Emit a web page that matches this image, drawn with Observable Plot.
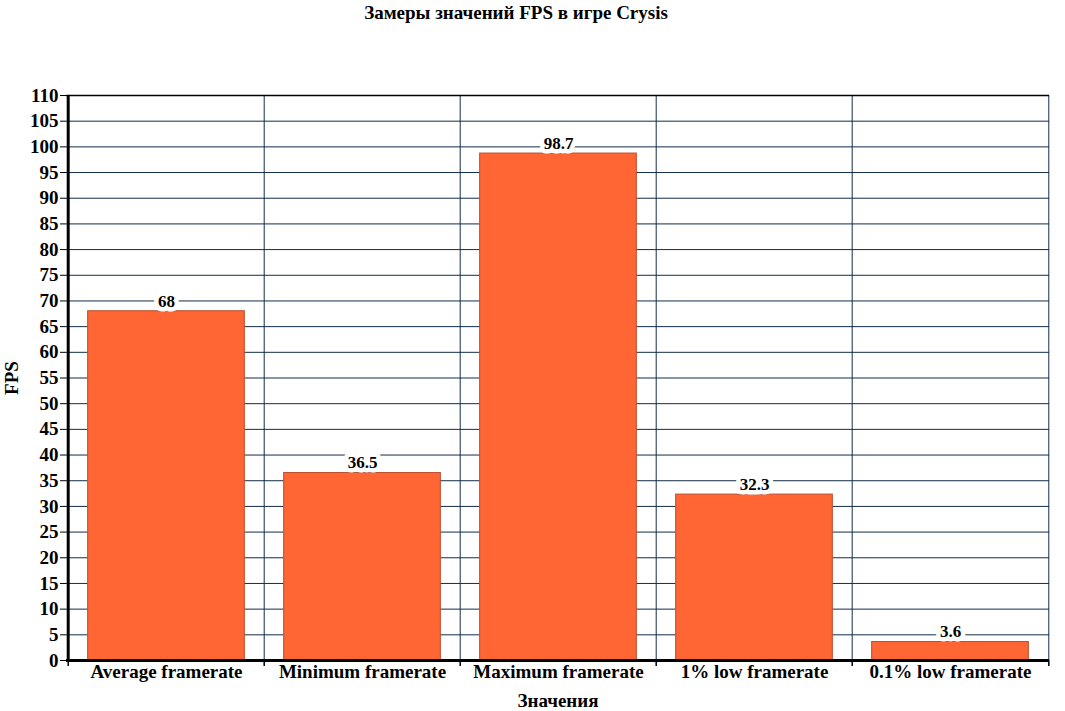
<!DOCTYPE html>
<html><head><meta charset="utf-8">
<script src="https://cdn.jsdelivr.net/npm/d3@7"></script>
<script src="https://cdn.jsdelivr.net/npm/@observablehq/plot@0.6"></script>
<style>
body{margin:0;background:#fff;font-family:"Liberation Serif","Times New Roman",serif;}
#wrap{position:relative;width:1065px;height:711px;}
#title{position:absolute;left:516px;top:2px;transform:translateX(-50%);font-weight:bold;font-size:19px;white-space:nowrap;}
#chart{position:absolute;left:0;top:30px;}
</style></head>
<body><div id="wrap"><div id="title">Замеры значений FPS в игре Crysis</div><div id="chart"></div></div>
<script>
const categories = ["Average framerate","Minimum framerate","Maximum framerate","1% low framerate","0.1% low framerate"];
const fps = [68, 36.5, 98.7, 32.3, 3.6];
const labels = ["68","36.5","98.7","32.3","3.6"];
const yTicks = [0,5,10,15,20,25,30,35,40,45,50,55,60,65,70,75,80,85,90,95,100,105,110];

const data = categories.map((c,i)=>({cat:c, v:fps[i], label:labels[i]}));
const W = 1065, ML = 66, MR = 16;
const bw = (W - ML - MR) / categories.length;
const navy = "#122c4a";
const last = [categories[categories.length-1]];

const plot = Plot.plot({
  width: W, height: 681,
  marginLeft: ML, marginRight: MR, marginTop: 65, marginBottom: 51,
  style: {fontFamily: "'Liberation Serif','Times New Roman',serif", fontWeight: "bold", fontSize: "19px", color: "#000", background: "#fff"},
  x: {domain: categories, padding: 0, label: null},
  y: {domain: [0, 110], label: null},
  marks: [
    Plot.ruleY(yTicks, {stroke: navy, strokeWidth: 1}),
    Plot.ruleX(categories, {x: d=>d, dx: -bw/2, y1: 0, y2: 110, stroke: navy, strokeWidth: 1}),
    Plot.ruleX(last, {x: d=>d, dx: bw/2, y1: 0, y2: 110, stroke: navy, strokeWidth: 1}),
    Plot.ruleY([110], {stroke: "#000", strokeWidth: 1.5}),
    Plot.barY(data, {x: "cat", y: "v", fill: "#ff6633", stroke: "#b9502e", strokeWidth: 1, insetLeft: bw*0.1, insetRight: bw*0.1}),
    Plot.text(data, {x: "cat", y: "v", text: "label", dy: -10, fontSize: 17, fontWeight: "bold", fill: "#000", stroke: "#fff", strokeWidth: 9, lineAnchor: "middle"}),
    Plot.ruleX(categories, {x: d=>d, dx: -bw/2, y1: 0, y2: 0, insetBottom: -6, stroke: "#000", strokeWidth: 1.5}),
    Plot.ruleX(last, {x: d=>d, dx: bw/2, y1: 0, y2: 0, insetBottom: -6, stroke: "#000", strokeWidth: 1.5}),
    Plot.ruleY([0], {stroke: "#000", strokeWidth: 3}),
    Plot.ruleX(categories.slice(0,1), {x: d=>d, dx: -bw/2, y1: 0, y2: 110, stroke: "#000", strokeWidth: 3}),
    Plot.axisY({ticks: yTicks, tickSize: 6, tickPadding: 2, fontSize: 19, label: "FPS", labelAnchor: "center", labelArrow: "none", labelOffset: 62}),
    Plot.axisX({tickSize: 0, tickPadding: 4, fontSize: 19, label: "Значения", labelAnchor: "center", labelArrow: "none", labelOffset: 46})
  ]
});
document.getElementById("chart").appendChild(plot);
</script></body></html>
